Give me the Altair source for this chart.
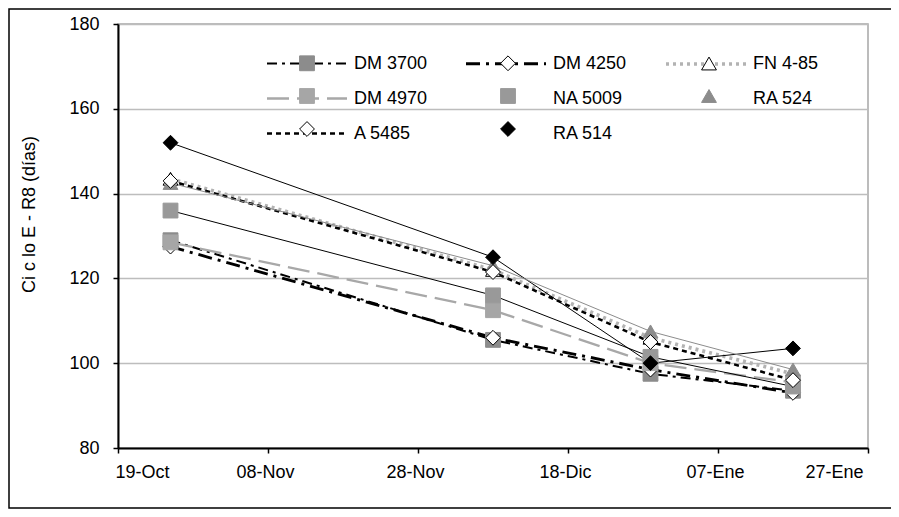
import json

import altair as alt
import pandas as pd

# Ciclo emergencia - R8 (días) según fecha de siembra
origen = "2003-10-19"
fechas = ["2003-10-26", "2003-12-08", "2003-12-29", "2004-01-17"]

cultivares = ["DM 3700", "DM 4250", "FN 4-85", "DM 4970", "NA 5009", "RA 524", "A 5485", "RA 514"]

dm3700 = [129, 105.5, 97.5, 93.5]
dm4250 = [127.5, 106, 98.5, 93]
fn485 = [143.5, 122, 106, 97.5]
dm4970 = [128.5, 112.5, 100, 95.5]
na5009 = [136, 116, 101.5, 94.5]
ra524 = [142.5, 123, 107.5, 98.5]
a5485 = [143, 121.5, 105, 96]
ra514 = [152, 125, 100, 103.5]

tick_labels = ["19-Oct", "08-Nov", "28-Nov", "18-Dic", "07-Ene", "27-Ene"]

series = [dm3700, dm4250, fn485, dm4970, na5009, ra524, a5485, ra514]
filas = []
for nombre, valores in zip(cultivares, series):
    for f, v in zip(fechas, valores):
        dias = (pd.Timestamp(f) - pd.Timestamp(origen)).days
        filas.append({"cultivar": nombre, "dias": dias, "ciclo": v})
df = pd.DataFrame(filas)

FONT = "Liberation Sans"
NONE = "rgba(0,0,0,0)"

# la leyenda se llena por columnas: orden columna a columna
orden = ["DM 3700", "DM 4970", "A 5485", "DM 4250", "NA 5009", "RA 514", "FN 4-85", "RA 524"]

# estilos de línea (las series solo con marcador van transparentes en la leyenda)
estilo_linea = {
    "DM 3700": ("black", [10, 5, 3, 5], 2),
    "DM 4250": ("black", [14, 6, 3, 6], 2),
    "FN 4-85": ("#b3b3b3", [3, 4], 2),
    "DM 4970": ("#a8a8a8", [22, 8], 4),
    "NA 5009": (NONE, [1, 0], 1),
    "RA 524": (NONE, [1, 0], 1),
    "A 5485": ("black", [5, 4], 3),
    "RA 514": (NONE, [1, 0], 1),
}
estilo_marca = {
    "DM 3700": ("square", "#8c8c8c", "#8c8c8c", 220),
    "DM 4250": ("diamond", "white", "black", 60),
    "FN 4-85": ("triangle-up", "white", "black", 75),
    "DM 4970": ("square", "#a6a6a6", "#a6a6a6", 220),
    "NA 5009": ("square", "#999999", "#999999", 130),
    "RA 524": ("triangle-up", "#8c8c8c", "#8c8c8c", 75),
    "A 5485": ("diamond", "white", "black", 70),
    "RA 514": ("diamond", "black", "black", 60),
}

# entrada vacía extra para que la leyenda de marcas no se fusione con la de líneas
orden_m = orden + ["-"]
m_shape = [estilo_marca[c][0] for c in orden] + ["circle"]
m_fill = [estilo_marca[c][1] for c in orden] + [NONE]
m_stroke = [estilo_marca[c][2] for c in orden] + [NONE]
m_size = [estilo_marca[c][3] for c in orden] + [0]

x = alt.X(
    "dias:Q",
    scale=alt.Scale(domain=[0, 100], nice=False),
    axis=alt.Axis(
        values=[0, 20, 40, 60, 80, 100],
        labelExpr=json.dumps(tick_labels) + "[round(datum.value / 20)]",
        title=None,
        grid=False,
        labelPadding=10,
        labelOffset={"condition": {"test": "datum.value == 100", "value": -5}, "value": -3},
    ),
)
y = alt.Y(
    "ciclo:Q",
    scale=alt.Scale(domain=[80, 180], nice=False),
    axis=alt.Axis(
        values=[80, 100, 120, 140, 160, 180],
        title="Ci c lo E - R8  (días)",
        titleX=-89,
        titleY=190,
        titleAngle=270,
        titleAlign="center",
        titleBaseline="middle",
        labelPadding=14,
        grid=True,
    ),
)

leyenda_lineas = alt.Legend(
    title=None, orient="none", legendX=147, legendY=30, columns=3,
    columnPadding=31, rowPadding=16, symbolType="M-1,0H9", symbolSize=256,
    labelOffset=69, labelFontSize=18, labelFont=FONT, labelColor="black",
)
# leyenda de marcas sin textos, superpuesta a la de líneas
leyenda_marcas = alt.Legend(
    title=None, orient="none", legendX=180, legendY=30, columns=3,
    columnPadding=144, rowPadding=13, labelOffset=38, labelExpr="''",
    labelFontSize=18, labelFont=FONT, symbolStrokeWidth=1,
)

base = alt.Chart(df)

lineas = base.transform_filter(
    alt.FieldOneOfPredicate(field="cultivar", oneOf=["DM 3700", "DM 4250", "FN 4-85", "DM 4970", "A 5485"])
).mark_line(strokeCap="butt").encode(
    x=x, y=y,
    color=alt.Color("cultivar:N", scale=alt.Scale(domain=orden, range=[estilo_linea[c][0] for c in orden]), legend=leyenda_lineas),
    strokeDash=alt.StrokeDash("cultivar:N", scale=alt.Scale(domain=orden, range=[estilo_linea[c][1] for c in orden]), legend=leyenda_lineas),
    strokeWidth=alt.StrokeWidth("cultivar:N", scale=alt.Scale(domain=orden, range=[estilo_linea[c][2] for c in orden]), legend=leyenda_lineas),
)

finas_negras = base.transform_filter(
    alt.FieldOneOfPredicate(field="cultivar", oneOf=["NA 5009", "RA 514"])
).mark_line(color="black", strokeWidth=1).encode(x=x, y=y, detail="cultivar:N")

fina_gris = base.transform_filter(
    alt.FieldEqualPredicate(field="cultivar", equal="RA 524")
).mark_line(color="#8c8c8c", strokeWidth=1).encode(x=x, y=y, detail="cultivar:N")

marcas = base.mark_point(filled=True, opacity=1, strokeWidth=1).encode(
    x=x, y=y,
    shape=alt.Shape("cultivar:N", scale=alt.Scale(domain=orden_m, range=m_shape), legend=leyenda_marcas),
    fill=alt.Fill("cultivar:N", scale=alt.Scale(domain=orden_m, range=m_fill), legend=leyenda_marcas),
    stroke=alt.Stroke("cultivar:N", scale=alt.Scale(domain=orden_m, range=m_stroke), legend=leyenda_marcas),
    size=alt.Size("cultivar:N", scale=alt.Scale(domain=orden_m, range=m_size), legend=leyenda_marcas),
)

marco = alt.Chart(alt.Data(values=[{"k": 0}])).mark_rect(
    fillOpacity=0, stroke="black", strokeWidth=1.5
).encode(x=alt.value(-109), x2=alt.value(900), y=alt.value(-15), y2=alt.value(484))

chart = alt.layer(marco, lineas, finas_negras, fina_gris, marcas).properties(
    width=750,
    height=424,
    autosize=alt.AutoSizeParams(type="none"),
    padding={"left": 110, "top": 16, "right": 23, "bottom": 61},
    background="white",
).configure_view(
    stroke="#a6a6a6", strokeWidth=1.5
).configure_axis(
    labelFont=FONT, labelFontSize=18, labelColor="black",
    titleFont=FONT, titleFontSize=18, titleFontWeight="normal", titleColor="black",
    domainColor="black", domainWidth=2, tickColor="black", tickWidth=1.5, tickSize=5,
    gridColor="#bdbdbd", gridWidth=1.5,
)

chart.save("out.html", embed_options={"renderer": "svg", "actions": False})
